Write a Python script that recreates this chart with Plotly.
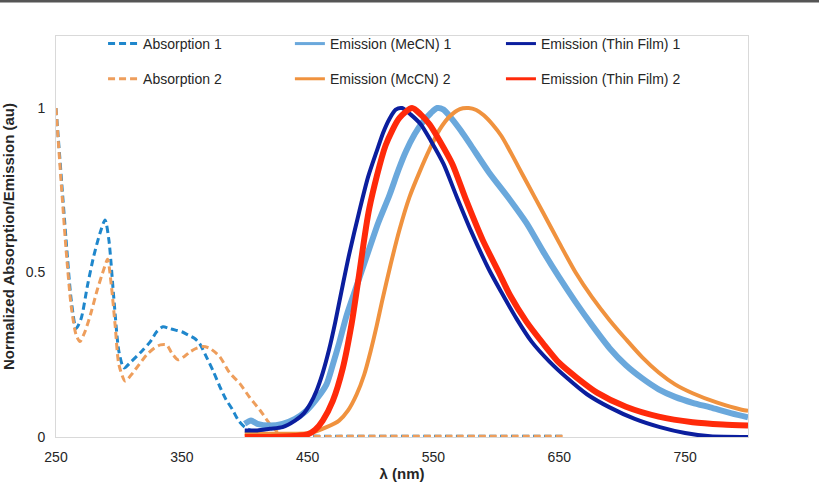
import plotly.graph_objects as go

# ---------------- data ----------------
abs1_x = [250, 254, 258, 262, 266, 270, 275, 280, 285, 289, 292, 296, 300, 304, 310, 318, 325, 330, 335,
          340, 345, 350, 355, 360, 364, 370, 375, 380, 385, 390, 395, 400, 405, 415, 430, 450, 500, 550, 600, 655]
abs1_y = [1.0, 0.80, 0.60, 0.42, 0.33, 0.36, 0.46, 0.55, 0.62, 0.66, 0.60, 0.42, 0.26, 0.21, 0.23, 0.26, 0.29, 0.32, 0.335,
          0.33, 0.325, 0.32, 0.31, 0.30, 0.285, 0.24, 0.20, 0.155, 0.115, 0.085, 0.05, 0.03, 0.02, 0.01, 0.005, 0.003, 0.002, 0.002, 0.002, 0.002]

abs2_x = [250, 254, 258, 262, 266, 269, 273, 278, 283, 288, 291, 294, 297, 300, 305, 310, 316, 322, 328, 333, 338,
          342, 347, 352, 357, 362, 367, 372, 380, 388, 396, 404, 412, 418, 422, 428, 435, 450, 500, 550, 600, 655]
abs2_y = [1.0, 0.78, 0.57, 0.40, 0.31, 0.29, 0.32, 0.38, 0.45, 0.51, 0.54, 0.46, 0.34, 0.22, 0.17, 0.19, 0.22, 0.25, 0.27, 0.28, 0.28,
          0.255, 0.235, 0.245, 0.26, 0.27, 0.275, 0.27, 0.245, 0.195, 0.163, 0.12, 0.082, 0.05, 0.03, 0.01, 0.003, 0.002, 0.002, 0.002, 0.002, 0.002]

em_mecn1_x = [400, 405, 410, 420, 430, 440, 449, 457, 465, 470, 475, 481, 489, 497, 506, 515, 522, 528, 535, 541, 548, 553,
              558, 564, 572, 580, 594, 610, 624, 637, 650, 663, 676, 690, 703, 716, 729, 742, 756, 770, 787, 800]
em_mecn1_y = [0.04, 0.05, 0.04, 0.035, 0.04, 0.055, 0.08, 0.115, 0.16, 0.22, 0.285, 0.37, 0.46, 0.55, 0.65, 0.735, 0.81, 0.867, 0.92, 0.955, 0.985, 1.0,
              0.995, 0.97, 0.93, 0.885, 0.805, 0.725, 0.65, 0.565, 0.485, 0.41, 0.34, 0.27, 0.218, 0.178, 0.145, 0.122, 0.104, 0.09, 0.072, 0.06]

em_mecn2_x = [400, 420, 440, 452, 465, 475, 482, 489, 495, 500, 505, 509, 516, 523, 531, 539, 547, 555, 563, 571, 578,
              584, 590, 597, 604, 610, 617, 624, 636, 650, 663, 676, 690, 703, 716, 729, 742, 756, 775, 795, 800]
em_mecn2_y = [0.01, 0.01, 0.01, 0.012, 0.03, 0.05, 0.08, 0.13, 0.19, 0.26, 0.34, 0.41, 0.525, 0.63, 0.73, 0.806, 0.875, 0.935, 0.975, 0.997, 1.0,
              0.994, 0.978, 0.95, 0.915, 0.875, 0.825, 0.775, 0.69, 0.59, 0.50, 0.425, 0.355, 0.297, 0.242, 0.196, 0.16, 0.133, 0.105, 0.083, 0.08]

em_tf1_x = [400, 410, 420, 430, 440, 447, 452, 457, 462, 467, 472, 477, 483, 491, 498, 505, 510, 515, 520, 525, 532,
            540, 548, 558, 568, 580, 594, 604, 616, 628, 642, 656, 672, 690, 710, 730, 750, 770, 800]
em_tf1_y = [0.02, 0.02, 0.025, 0.03, 0.05, 0.072, 0.10, 0.14, 0.195, 0.265, 0.35, 0.445, 0.555, 0.685, 0.79, 0.87, 0.925, 0.967, 0.995, 1.0, 0.98,
            0.95, 0.90, 0.83, 0.735, 0.625, 0.51, 0.44, 0.36, 0.29, 0.23, 0.18, 0.13, 0.09, 0.055, 0.03, 0.012, 0.002, 0.0]

em_tf2_x = [400, 420, 440, 450, 456, 462, 470, 478, 485, 490, 499, 512, 523, 533, 540, 547, 555, 565, 576, 589, 602, 611,
            624, 637, 650, 664, 680, 703, 729, 756, 780, 800]
em_tf2_y = [0.0, 0.0, 0.003, 0.008, 0.022, 0.05, 0.11, 0.21, 0.345, 0.47, 0.695, 0.887, 0.97, 1.0, 0.98, 0.95, 0.90, 0.83, 0.72, 0.60, 0.50, 0.43,
            0.35, 0.285, 0.225, 0.18, 0.135, 0.092, 0.062, 0.045, 0.038, 0.035]

x_ticks = [250, 350, 450, 550, 650, 750]
y_ticks = [0, 0.5, 1]
y_tick_text = ["0", "0.5", "1"]

# ---------------- figure ----------------
FONT = "Liberation Sans, Arial, sans-serif"
fig = go.Figure()

DASH = "7px,4px"
series = [
    # x, y, name, color, width, dash, legend, legend line width
    (abs1_x, abs1_y, "Absorption 1", "#1f87cc", 3, DASH, "legend", 3),
    (abs2_x, abs2_y, "Absorption 2", "#ee9e5c", 3, DASH, "legend", 3),
    (em_mecn1_x, em_mecn1_y, "Emission (MeCN) 1", "#6aa8dc", 6, "solid", "legend2", 3),
    (em_mecn2_x, em_mecn2_y, "Emission (McCN) 2", "#f0923e", 4, "solid", "legend2", 3),
    (em_tf1_x, em_tf1_y, "Emission (Thin Film) 1", "#0b1e9e", 4, "solid", "legend3", 3),
    (em_tf2_x, em_tf2_y, "Emission (Thin Film) 2", "#ff2a0a", 6, "solid", "legend3", 3),
]

for i, (xs, ys, name, color, w, dash, leg, lw) in enumerate(series):
    fig.add_trace(go.Scatter(x=xs, y=ys, mode="lines", name=name, showlegend=False,
                             line=dict(color=color, width=w, dash=dash, shape="spline", smoothing=0.7),
                             legendgroup=f"g{i}", hoverinfo="x+y+name"))
# legend-only entries (thin legend symbols, as in the original)
for i, (xs, ys, name, color, w, dash, leg, lw) in enumerate(series):
    fig.add_trace(go.Scatter(x=[None], y=[None], mode="lines", name=name, showlegend=True,
                             line=dict(color=color, width=lw, dash=dash),
                             legend=leg, legendgroup=f"g{i}"))

leg_common = dict(orientation="v", yanchor="top", xanchor="left", y=1.02,
                  bgcolor="rgba(0,0,0,0)", borderwidth=0, tracegroupgap=14,
                  font=dict(family=FONT, size=14, color="#262626"), itemwidth=30)

fig.update_layout(
    width=819, height=482,
    margin=dict(l=56, r=71, t=36, b=45),
    paper_bgcolor="white", plot_bgcolor="white",
    font=dict(family=FONT, size=14, color="#262626"),
    legend=dict(x=0.068, **leg_common),
    legend2=dict(x=0.338, **leg_common),
    legend3=dict(x=0.643, **leg_common),
    xaxis=dict(range=[250, 800], tickvals=x_ticks, ticktext=[str(v) for v in x_ticks], automargin=False,
               showgrid=False, zeroline=False, showline=True, linecolor="#d9d9d9", linewidth=1, mirror=True,
               ticks="outside", ticklen=7, tickcolor="rgba(0,0,0,0)",
               tickfont=dict(family=FONT, size=14, color="#262626"),
               title=dict(text="<b>λ (nm)</b>", font=dict(family=FONT, size=15, color="#262626"), standoff=1)),
    yaxis=dict(range=[0, 1.219], tickvals=y_ticks, ticktext=y_tick_text, automargin=False,
               showgrid=False, zeroline=False, showline=True, linecolor="#d9d9d9", linewidth=1, mirror=True,
               ticks="outside", ticklen=7, tickcolor="rgba(0,0,0,0)",
               tickfont=dict(family=FONT, size=14, color="#262626"),
               title=dict(text="<b>Normalized Absorption/Emission (au)</b>",
                          font=dict(family=FONT, size=15, color="#262626"), standoff=10)),
    shapes=[dict(type="line", xref="paper", yref="paper", x0=-0.09, x1=1.11, y0=1.0873, y1=1.0873,
                 line=dict(color="#555555", width=3))],
)

fig.write_html("out.html")
